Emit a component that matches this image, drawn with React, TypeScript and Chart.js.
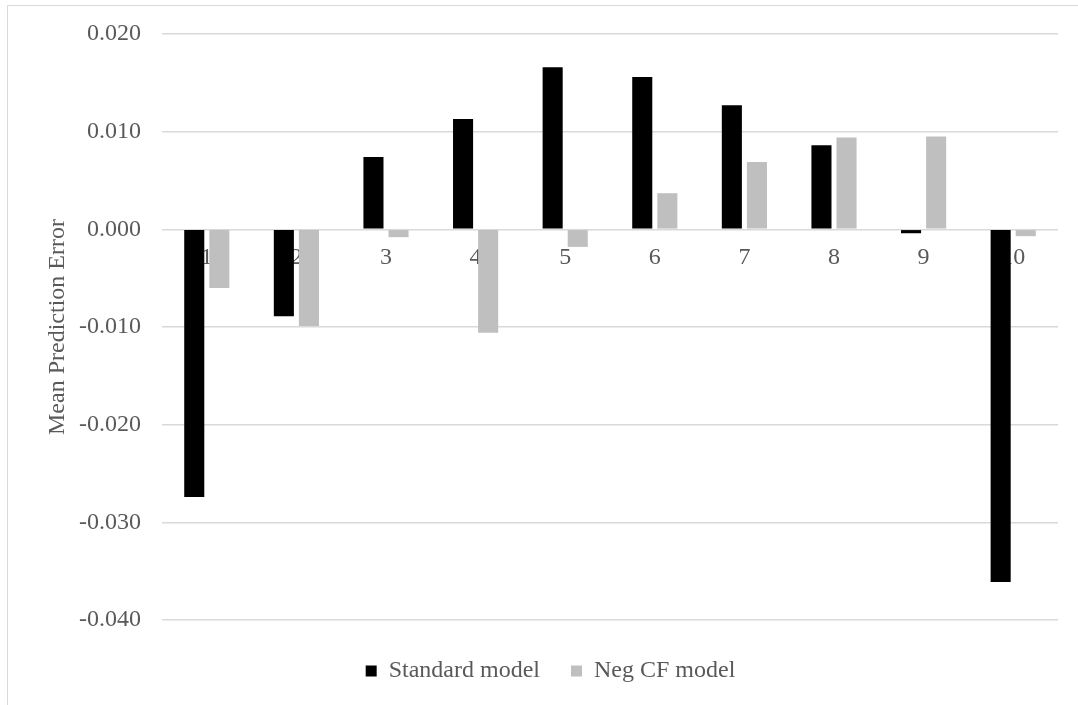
import React, { useEffect, useRef } from "react";
import { Chart, registerables } from "chart.js";

Chart.register(...registerables);

// Decile groups along the x axis
const categories = ["1", "2", "3", "4", "5", "6", "7", "8", "9", "10"];

// Mean prediction error per decile
const standardModel = [-0.0274, -0.0089, 0.0074, 0.0113, 0.0166, 0.0156, 0.0127, 0.0086, -0.0004, -0.0361];
const negCfModel = [-0.006, -0.0099, -0.0008, -0.0106, -0.0018, 0.0037, 0.0069, 0.0094, 0.0095, -0.0007];

const seriesNames = ["Standard model", "Neg CF model"];
const yTitle = "Mean Prediction Error";

const FONT = "'Liberation Serif', 'Times New Roman', serif";
const TEXT = "#595959";
const GRID = "#d9d9d9";

export default function App() {
  const canvasRef = useRef<HTMLCanvasElement | null>(null);

  useEffect(() => {
    const canvas = canvasRef.current;
    if (!canvas) return;
    const chart = new Chart(canvas, {
      type: "bar",
      data: {
        labels: categories,
        datasets: [
          {
            label: seriesNames[0],
            data: standardModel,
            backgroundColor: "#000000",
            categoryPercentage: 0.56,
            barPercentage: 0.8,
          },
          {
            label: seriesNames[1],
            data: negCfModel,
            backgroundColor: "#bfbfbf",
            categoryPercentage: 0.56,
            barPercentage: 0.8,
          },
        ],
      },
      options: {
        animation: false,
        responsive: false,
        maintainAspectRatio: false,
        layout: { padding: { left: 35, right: 38, top: 28, bottom: 12 } },
        scales: {
          x: {
            position: { y: 0 } as any,
            grid: { display: false, drawTicks: false },
            border: { display: false },
            ticks: {
              color: TEXT,
              font: { family: FONT, size: 24 },
              padding: 14,
              maxRotation: 0,
            },
          },
          y: {
            min: -0.04,
            max: 0.02,
            afterFit: (scale: any) => {
              // fixed axis band; the plot edges are set by the layout padding
              scale.width = 119;
              scale.paddingTop = 0;
              scale.paddingBottom = 0;
            },
            grid: { color: GRID, lineWidth: 1.5, drawTicks: false },
            border: { display: false },
            ticks: {
              stepSize: 0.01,
              color: TEXT,
              padding: 21,
              font: { family: FONT, size: 24 },
              callback: (v: any) => Number(v).toFixed(3),
            },
            title: {
              display: true,
              text: yTitle,
              color: TEXT,
              font: { family: FONT, size: 24 },
              padding: { top: 0, bottom: 0 },
            },
          },
        },
        plugins: {
          tooltip: { enabled: false },
          legend: {
            position: "bottom",
            title: { display: true, text: "", font: { size: 8, lineHeight: 1 }, padding: 0 },
            labels: {
              color: TEXT,
              font: { family: FONT, size: 24 },
              boxWidth: 11,
              boxHeight: 11,
              padding: 31,
            },
          },
        },
      },
    });
    return () => chart.destroy();
  }, []);

  return (
    <div style={{ position: "fixed", inset: 0, overflow: "hidden", background: "#ffffff" }}>
      <div
        style={{
          position: "absolute",
          left: 7,
          top: 5,
          width: 1089,
          height: 700,
          borderLeft: "1px solid #d9d9d9",
          borderTop: "1px solid #d9d9d9",
        }}
      >
        <canvas ref={canvasRef} width={1088} height={699} style={{ display: "block" }} />
      </div>
    </div>
  );
}
